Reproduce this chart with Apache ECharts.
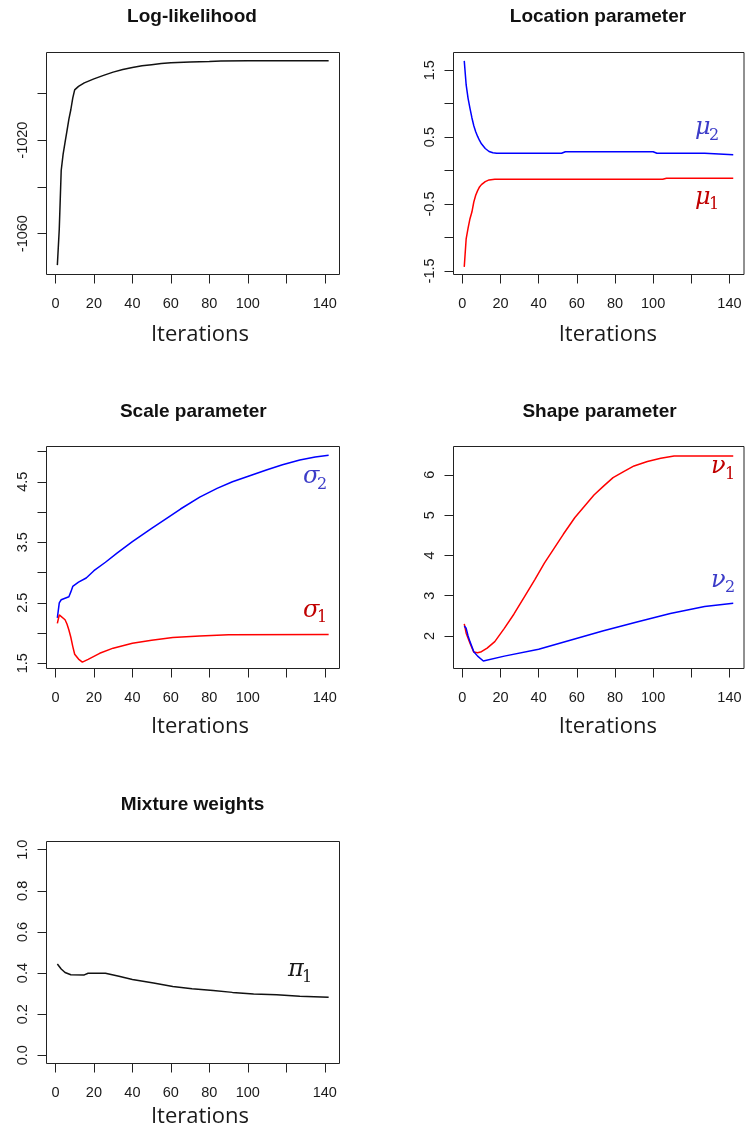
<!DOCTYPE html>
<html><head><meta charset="utf-8">
<script src="https://cdn.jsdelivr.net/npm/echarts@6/dist/echarts.min.js"></script>
<style>html,body{margin:0;padding:0;background:#fff}#c{width:745px;height:1131px}</style>
</head><body><div id="c"></div>
<script>
// ---------------- data ----------------
const xTicks = [0,20,40,60,80,100,120,140];
const xLabels = [0,20,40,60,80,100,140];

const iterLL = [1,2,3,4,5,6,7,8,9,10,12,15,20,25,30,35,40,45,50,55,60,70,80,86,100,120,142];
const logLik = [-1073.5,-1058,-1033,-1026,-1021,-1016,-1011,-1007,-1002,-998.5,-997,-995.5,-993.8,-992.3,-990.9,-989.8,-988.9,-988.2,-987.7,-987.2,-986.9,-986.6,-986.4,-986.1,-986.05,-986,-986];
const llTicks = [-1060,-1040,-1020,-1000];
const llLabels = [-1060,-1020];

const iterMu2 = [1,2,3,4,5,6,7,8,9,10,12,14,16,18,52,54,100,102,127,128,142];
const mu2 = [1.64,1.28,1.08,0.93,0.79,0.67,0.58,0.51,0.45,0.40,0.33,0.285,0.265,0.258,0.258,0.282,0.282,0.258,0.258,0.235,0.235];
const iterMu1 = [1,2,3,4,5,6,7,8,9,10,12,14,17,105,107,142];
const mu1 = [-1.44,-1.02,-0.86,-0.72,-0.62,-0.47,-0.37,-0.30,-0.245,-0.21,-0.165,-0.14,-0.13,-0.13,-0.115,-0.115];
const locTicks = [-1.5,-1,-0.5,0,0.5,1,1.5];
const locLabels = [-1.5,-0.5,0.5,1.5];

const iterSig2 = [1,2,3,5,7,8,9,10,12,16,20,26,32,40,50,58,65,75,84,92,101,110,118,127,135,142];
const sigma2 = [2.25,2.50,2.55,2.575,2.60,2.68,2.77,2.80,2.84,2.91,3.03,3.17,3.32,3.51,3.73,3.90,4.05,4.245,4.39,4.50,4.60,4.70,4.78,4.86,4.91,4.94];
const iterSig1 = [1,2,3,5,6,7,8,9,10,12,14,17,23,30,40,50,61,75,90,142];
const sigma1 = [2.16,2.30,2.27,2.22,2.15,2.05,1.93,1.78,1.65,1.57,1.52,1.565,1.665,1.75,1.83,1.88,1.925,1.95,1.97,1.975];
const scaleTicks = [1.5,2,2.5,3,3.5,4,4.5,5];
const scaleLabels = [1.5,2.5,3.5,4.5];

const iterNu1 = [1,2,4,6,8,10,13,17,22,27,33,38,43,48,53,59,64,69,74,79,85,90,97,104,111,142];
const nu1 = [2.30,2.07,1.82,1.60,1.585,1.61,1.70,1.86,2.19,2.54,3.01,3.40,3.81,4.17,4.53,4.94,5.22,5.50,5.72,5.93,6.09,6.22,6.33,6.41,6.47,6.47];
const iterNu2 = [1,2,3,4,6,8,11,12,22,40,57,74,92,109,127,142];
const nu2 = [2.25,2.19,2.0,1.86,1.61,1.50,1.38,1.36,1.50,1.67,1.90,2.13,2.355,2.56,2.73,2.81];
const shapeTicks = [2,3,4,5,6];
const shapeLabels = [2,3,4,5,6];

const iterPi1 = [1,3,5,8,15,17,26,33,40,51,61,71,82,92,103,115,127,142];
const pi1 = [0.444,0.42,0.403,0.392,0.391,0.399,0.399,0.384,0.369,0.352,0.335,0.324,0.315,0.306,0.298,0.294,0.287,0.282];
const wTicks = [0,0.2,0.4,0.6,0.8,1];
const wLabels = [0,0.2,0.4,0.6,0.8,1];

const titles = ['Log-likelihood','Location parameter','Scale parameter','Shape parameter','Mixture weights'];
const xName = 'Iterations';

// ---------------- layout ----------------
const BLUE = '#0000ff', RED = '#ff0000', BLACK = '#111111';
const LBLUE = '#3c3cc8', LRED = '#c00000';
const xRange = [-4.64, 147.64];
const panels = [
  {box:[46.5,52.5,293,222], y:[-1077.5,-982.5], yt:llTicks, yl:llLabels, dec:0,
   series:[[iterLL,logLik,BLACK]], titleX:192, capTop:10, nameX:200, nameBase:341.5, labels:[]},
  {box:[453.5,52.5,290.5,222], y:[-1.554,1.765], yt:locTicks, yl:locLabels, dec:1,
   series:[[iterMu2,mu2,BLUE],[iterMu1,mu1,RED]], titleX:598, capTop:10, nameX:607.8, nameBase:341.5,
   labels:[['μ','2',695,141,LBLUE],['μ','1',695,210.5,LRED]]},
  {box:[46.5,446.5,293,222], y:[1.414,5.083], yt:scaleTicks, yl:scaleLabels, dec:1,
   series:[[iterSig2,sigma2,BLUE],[iterSig1,sigma1,RED]], titleX:193.3, capTop:405, nameX:200, nameBase:733.3,
   labels:[['σ','2',303,490,LBLUE],['σ','1',303,623.5,LRED]]},
  {box:[453.5,446.5,290.5,222], y:[1.193,6.703], yt:shapeTicks, yl:shapeLabels, dec:0,
   series:[[iterNu1,nu1,RED],[iterNu2,nu2,BLUE]], titleX:599.5, capTop:405, nameX:607.8, nameBase:733.3,
   labels:[['ν','1',711,480,LRED],['ν','2',711,593.5,LBLUE]]},
  {box:[46.5,841.5,293,222], y:[-0.04,1.04], yt:wTicks, yl:wLabels, dec:1,
   series:[[iterPi1,pi1,BLACK]], titleX:192.5, capTop:798.3, nameX:200, nameBase:1123.3,
   labels:[['π','1',288,983,'#1a1a1a']]}
];

const tickFont = {fontFamily:'Liberation Sans', fontSize:14.5, color:'#1a1a1a'};
const option = {animation:false, backgroundColor:'#fff', title:[], grid:[], xAxis:[], yAxis:[], series:[], graphic:[]};

panels.forEach((p, i) => {
  option.grid.push({left:p.box[0], top:p.box[1], width:p.box[2], height:p.box[3],
    show:true, borderColor:'#222', borderWidth:1, backgroundColor:'transparent', containLabel:false});
  option.xAxis.push({type:'value', gridIndex:i, min:xRange[0], max:xRange[1], position:'bottom',
    axisLine:{show:false, onZero:false}, splitLine:{show:false},
    axisTick:{show:true, length:9, inside:false, customValues:xTicks, lineStyle:{color:'#222', width:1}},
    axisLabel:Object.assign({show:true, margin:22, customValues:xLabels, formatter:v=>String(v)}, tickFont)});
  option.yAxis.push({type:'value', gridIndex:i, min:p.y[0], max:p.y[1], position:'left',
    axisLine:{show:false, onZero:false}, splitLine:{show:false},
    axisTick:{show:true, length:9, inside:false, customValues:p.yt, lineStyle:{color:'#222', width:1}},
    axisLabel:Object.assign({show:true, margin:16.5, rotate:90, customValues:p.yl,
      formatter:v=>Number(v).toFixed(p.dec)}, tickFont)});
  p.series.forEach(s => {
    option.series.push({type:'line', xAxisIndex:i, yAxisIndex:i, showSymbol:false, symbol:'none',
      data:s[0].map((x,k)=>[x, s[1][k]]), lineStyle:{color:s[2], width:1.5}, silent:true});
  });
  option.title.push({text:titles[i], left:p.titleX, top:p.capTop-3, textAlign:'center', padding:0,
    textStyle:{fontFamily:'Liberation Sans', fontWeight:'bold', fontSize:19, color:'#111'}});
  option.graphic.push({type:'text', x:p.nameX, y:p.nameBase-7, silent:true,
    style:{text:xName, fontFamily:'Open Sans', fontSize:22, fill:'#1a1a1a', align:'center', verticalAlign:'middle'}});
  p.labels.forEach(l => {
    option.graphic.push({type:'text', x:l[2], y:l[3]-5-8, silent:true,
      style:{text:l[0], fontFamily:'DejaVu Serif', fontStyle:'italic', fontSize:24, fill:l[4], align:'left', verticalAlign:'middle'}});
    option.graphic.push({type:'text', x:l[2]+14, y:l[3]-5.5, silent:true,
      style:{text:l[1], fontFamily:'DejaVu Serif', fontSize:16, fill:l[4], align:'left', verticalAlign:'middle'}});
  });
});

const chart = echarts.init(document.getElementById('c'), null, {renderer:'canvas'});
chart.setOption(option);
</script></body></html>
